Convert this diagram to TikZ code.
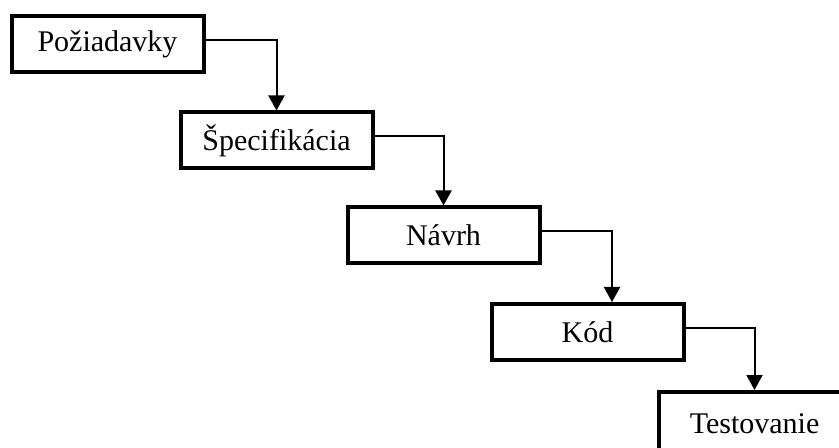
\documentclass[tikz,border=0pt]{standalone}
\usepackage{fontspec}
\setmainfont{Liberation Serif}
\usetikzlibrary{arrows.meta,calc}
\tikzset{
myPhase/.style={
	rectangle,draw=black,line width=2pt,fill=white,
	inner sep=0pt,minimum width=96pt,minimum height=28pt,
	font=\fontsize{15}{18}\selectfont
}
, myFlow/.style={-{Triangle[length=7.5pt,width=8pt]},line width=1pt}
}

\begin{document}
\begin{tikzpicture}[x=0.5pt,y=-0.5pt]
	\useasboundingbox (0,0) rectangle (839,448);
	% phases
	\node[myPhase] (Req) at (107.5,44) {Požiadavky};
	\node[myPhase] (Spec) at (276.5,140.5) {Špecifikácia};
	\node[myPhase] (Design) at (443.5,235.5) {Návrh};
	\node[myPhase] (Code) at (587.5,332) {Kód};
	\node[myPhase,minimum height=32pt] (Test) at (754.5,424) {Testovanie};
	% links
	\draw[myFlow] ([yshift=2pt]Req.east) -| (Spec.north);
	\draw[myFlow] ([yshift=2pt]Spec.east) -| (Design.north);
	\draw[myFlow] ([yshift=2pt]Design.east) -| ([xshift=12.25pt]Code.north);
	\draw[myFlow] ([yshift=2pt]Code.east) -| (Test.north);
\end{tikzpicture}
\end{document}
